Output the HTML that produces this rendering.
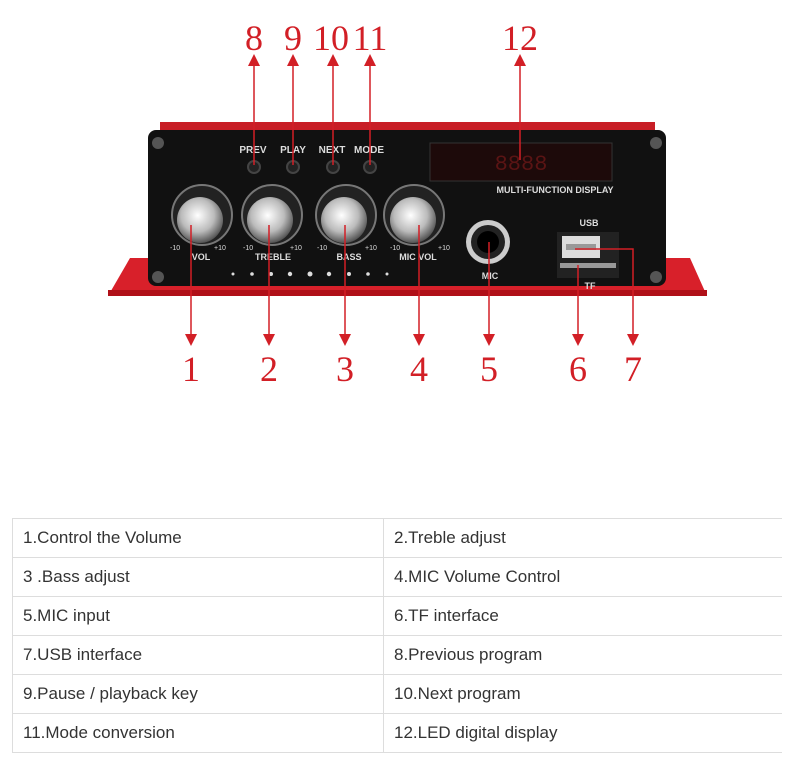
<!DOCTYPE html>
<html><head><meta charset="utf-8"><style>
body{margin:0;background:#fff;width:800px;height:765px;overflow:hidden;font-family:"Liberation Sans",sans-serif}
svg{position:absolute;left:0;top:0}
table{position:absolute;left:12px;top:518px;width:770px;border-collapse:collapse;color:#333;font-size:17px;table-layout:fixed}
td{border:1px solid #ddd;height:38px;padding:0 0 0 10px}
td.l{width:360px}
table tr td:last-child{border-right:none}
</style></head><body>
<svg width="800" height="500" viewBox="0 0 800 500">
<defs>
<radialGradient id="k" cx="0.45" cy="0.4" r="0.6"><stop offset="0" stop-color="#fff"/><stop offset="0.6" stop-color="#bbb"/><stop offset="1" stop-color="#555"/></radialGradient>
<marker id="a" markerWidth="8" markerHeight="8" refX="4" refY="4" orient="auto"><path d="M0,0 L8,4 L0,8 z" fill="#d21f26"/></marker>
</defs>
<polygon points="130,258 690,258 707,296 108,296" fill="#d8202a"/>
<rect x="108" y="290" width="599" height="6" fill="#b01018"/>
<rect x="160" y="122" width="495" height="14" fill="#c81e26"/>
<rect x="148" y="130" width="518" height="156" rx="8" fill="#111"/>
<circle cx="158" cy="143" r="6" fill="#555"/><circle cx="656" cy="143" r="6" fill="#555"/>
<circle cx="158" cy="277" r="6" fill="#555"/><circle cx="656" cy="277" r="6" fill="#555"/>
<g fill="#ddd" font-size="10" font-family="Liberation Sans" text-anchor="middle" font-weight="bold">
<text x="253" y="153">PREV</text><text x="293" y="153">PLAY</text><text x="332" y="153">NEXT</text><text x="369" y="153">MODE</text>
<text x="555" y="193" font-size="9">MULTI-FUNCTION DISPLAY</text>
<text x="589" y="226" font-size="9">USB</text><text x="590" y="289" font-size="9">TF</text>
<text x="201" y="260" font-size="9">VOL</text><text x="273" y="260" font-size="9">TREBLE</text><text x="349" y="260" font-size="9">BASS</text><text x="418" y="260" font-size="9">MIC VOL</text>
<text x="490" y="279" font-size="9">MIC</text>
</g>
<g fill="#ddd" font-size="7" font-family="Liberation Sans">
<text x="170" y="250">-10</text><text x="214" y="250">+10</text>
<text x="243" y="250">-10</text><text x="290" y="250">+10</text>
<text x="317" y="250">-10</text><text x="365" y="250">+10</text>
<text x="390" y="250">-10</text><text x="438" y="250">+10</text>
</g>
<g fill="#222" stroke="#444" stroke-width="2"><circle cx="254" cy="167" r="6"/><circle cx="293" cy="167" r="6"/><circle cx="333" cy="167" r="6"/><circle cx="370" cy="167" r="6"/></g>
<rect x="430" y="143" width="182" height="38" fill="#1d0a0a" stroke="#333"/>
<text x="521" y="170" fill="#5a1414" font-size="22" text-anchor="middle" font-family="Liberation Mono">8888</text>
<g stroke="#777" stroke-width="2" fill="#222">
<circle cx="202" cy="215" r="30"/><circle cx="272" cy="215" r="30"/><circle cx="346" cy="215" r="30"/><circle cx="414" cy="215" r="30"/></g>
<g fill="url(#k)"><circle cx="200" cy="220" r="23"/><circle cx="270" cy="220" r="23"/><circle cx="344" cy="220" r="23"/><circle cx="413" cy="220" r="23"/></g>
<circle cx="488" cy="242" r="22" fill="#ccc"/><circle cx="488" cy="242" r="17" fill="#222"/><circle cx="488" cy="242" r="11" fill="#000"/>
<rect x="557" y="232" width="62" height="46" fill="#222"/>
<rect x="562" y="236" width="38" height="22" fill="#ddd"/><rect x="566" y="244" width="30" height="6" fill="#999"/>
<rect x="560" y="263" width="56" height="5" fill="#999"/>
<g fill="#ddd"><circle cx="233" cy="274" r="1.5"/><circle cx="252" cy="274" r="1.8"/><circle cx="271" cy="274" r="2"/><circle cx="290" cy="274" r="2.2"/><circle cx="310" cy="274" r="2.5"/><circle cx="329" cy="274" r="2.2"/><circle cx="349" cy="274" r="2"/><circle cx="368" cy="274" r="1.8"/><circle cx="387" cy="274" r="1.5"/></g>
<g stroke="#d21f26" stroke-width="1.5" fill="none">
<line x1="254" y1="165" x2="254" y2="60" marker-end="url(#a)"/>
<line x1="293" y1="165" x2="293" y2="60" marker-end="url(#a)"/>
<line x1="333" y1="165" x2="333" y2="60" marker-end="url(#a)"/>
<line x1="370" y1="165" x2="370" y2="60" marker-end="url(#a)"/>
<line x1="520" y1="160" x2="520" y2="60" marker-end="url(#a)"/>
<line x1="191" y1="225" x2="191" y2="340" marker-end="url(#a)"/>
<line x1="269" y1="225" x2="269" y2="340" marker-end="url(#a)"/>
<line x1="345" y1="225" x2="345" y2="340" marker-end="url(#a)"/>
<line x1="419" y1="225" x2="419" y2="340" marker-end="url(#a)"/>
<line x1="489" y1="242" x2="489" y2="340" marker-end="url(#a)"/>
<line x1="578" y1="265" x2="578" y2="340" marker-end="url(#a)"/>
<polyline points="575,249 633,249 633,340" marker-end="url(#a)"/>
</g>
<g fill="#d21f26" font-family="Liberation Serif" font-size="36" text-anchor="middle">
<text x="254" y="50">8</text><text x="293" y="50">9</text><text x="331" y="50">10</text><text x="370" y="50">11</text><text x="520" y="50">12</text>
<text x="191" y="381">1</text><text x="269" y="381">2</text><text x="345" y="381">3</text><text x="419" y="381">4</text><text x="489" y="381">5</text><text x="578" y="381">6</text><text x="633" y="381">7</text>
</g>
</svg>
<table>
<tr><td class="l">1.Control the Volume</td><td>2.Treble adjust</td></tr>
<tr><td>3 .Bass adjust</td><td>4.MIC Volume Control</td></tr>
<tr><td>5.MIC input</td><td>6.TF interface</td></tr>
<tr><td>7.USB interface</td><td>8.Previous program</td></tr>
<tr><td>9.Pause / playback key</td><td>10.Next program</td></tr>
<tr><td>11.Mode conversion</td><td>12.LED digital display</td></tr>
</table>
</body></html>
